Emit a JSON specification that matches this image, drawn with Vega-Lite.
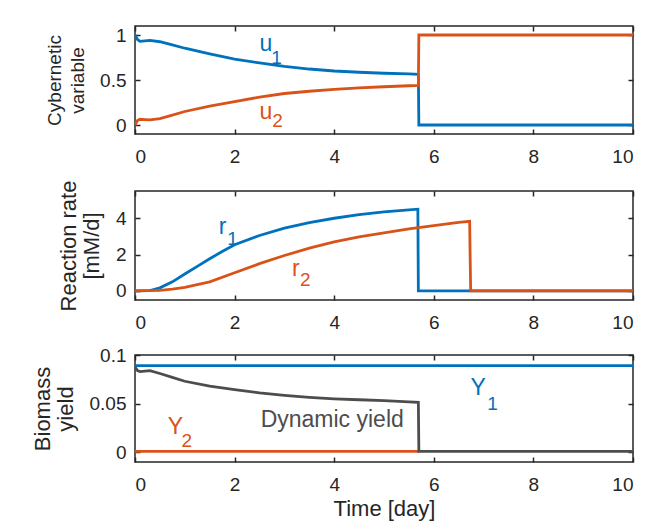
{
  "$schema": "https://vega.github.io/schema/vega-lite/v6.json",
  "background": "white",
  "padding": {"left": 30, "top": 24, "right": 10, "bottom": 2},
  "datasets": {
    "curves": [
      {"panel": 1, "series": "u1", "t": 0, "v": 1.0},
      {"panel": 1, "series": "u1", "t": 0.05, "v": 0.95},
      {"panel": 1, "series": "u1", "t": 0.1, "v": 0.93},
      {"panel": 1, "series": "u1", "t": 0.2, "v": 0.935},
      {"panel": 1, "series": "u1", "t": 0.3, "v": 0.94},
      {"panel": 1, "series": "u1", "t": 0.5, "v": 0.925},
      {"panel": 1, "series": "u1", "t": 0.75, "v": 0.89},
      {"panel": 1, "series": "u1", "t": 1, "v": 0.853},
      {"panel": 1, "series": "u1", "t": 1.5, "v": 0.79},
      {"panel": 1, "series": "u1", "t": 2, "v": 0.733},
      {"panel": 1, "series": "u1", "t": 2.5, "v": 0.69},
      {"panel": 1, "series": "u1", "t": 3, "v": 0.652},
      {"panel": 1, "series": "u1", "t": 3.5, "v": 0.622},
      {"panel": 1, "series": "u1", "t": 4, "v": 0.6},
      {"panel": 1, "series": "u1", "t": 4.5, "v": 0.586},
      {"panel": 1, "series": "u1", "t": 5, "v": 0.575},
      {"panel": 1, "series": "u1", "t": 5.5, "v": 0.567},
      {"panel": 1, "series": "u1", "t": 5.69, "v": 0.564},
      {"panel": 1, "series": "u1", "t": 5.7, "v": 0},
      {"panel": 1, "series": "u1", "t": 10, "v": 0},
      {"panel": 1, "series": "u2", "t": 0, "v": 0.0},
      {"panel": 1, "series": "u2", "t": 0.05, "v": 0.05},
      {"panel": 1, "series": "u2", "t": 0.1, "v": 0.064},
      {"panel": 1, "series": "u2", "t": 0.2, "v": 0.06},
      {"panel": 1, "series": "u2", "t": 0.3, "v": 0.056},
      {"panel": 1, "series": "u2", "t": 0.5, "v": 0.07},
      {"panel": 1, "series": "u2", "t": 0.75, "v": 0.11},
      {"panel": 1, "series": "u2", "t": 1, "v": 0.15},
      {"panel": 1, "series": "u2", "t": 1.5, "v": 0.21},
      {"panel": 1, "series": "u2", "t": 2, "v": 0.26},
      {"panel": 1, "series": "u2", "t": 2.5, "v": 0.31},
      {"panel": 1, "series": "u2", "t": 3, "v": 0.35},
      {"panel": 1, "series": "u2", "t": 3.5, "v": 0.375},
      {"panel": 1, "series": "u2", "t": 4, "v": 0.395},
      {"panel": 1, "series": "u2", "t": 4.5, "v": 0.412},
      {"panel": 1, "series": "u2", "t": 5, "v": 0.425},
      {"panel": 1, "series": "u2", "t": 5.5, "v": 0.436},
      {"panel": 1, "series": "u2", "t": 5.69, "v": 0.44},
      {"panel": 1, "series": "u2", "t": 5.7, "v": 1},
      {"panel": 1, "series": "u2", "t": 10, "v": 1},
      {"panel": 2, "series": "r1", "t": 0, "v": 0},
      {"panel": 2, "series": "r1", "t": 0.3, "v": 0.02},
      {"panel": 2, "series": "r1", "t": 0.5, "v": 0.17},
      {"panel": 2, "series": "r1", "t": 0.75, "v": 0.5},
      {"panel": 2, "series": "r1", "t": 1, "v": 0.93},
      {"panel": 2, "series": "r1", "t": 1.25, "v": 1.35},
      {"panel": 2, "series": "r1", "t": 1.5, "v": 1.77},
      {"panel": 2, "series": "r1", "t": 1.75, "v": 2.17},
      {"panel": 2, "series": "r1", "t": 2, "v": 2.54},
      {"panel": 2, "series": "r1", "t": 2.5, "v": 3.05},
      {"panel": 2, "series": "r1", "t": 3, "v": 3.46},
      {"panel": 2, "series": "r1", "t": 3.5, "v": 3.76},
      {"panel": 2, "series": "r1", "t": 4, "v": 4.0},
      {"panel": 2, "series": "r1", "t": 4.5, "v": 4.2},
      {"panel": 2, "series": "r1", "t": 5, "v": 4.35},
      {"panel": 2, "series": "r1", "t": 5.5, "v": 4.46},
      {"panel": 2, "series": "r1", "t": 5.68, "v": 4.5},
      {"panel": 2, "series": "r1", "t": 5.69, "v": 0},
      {"panel": 2, "series": "r1", "t": 10, "v": 0},
      {"panel": 2, "series": "r2", "t": 0, "v": 0},
      {"panel": 2, "series": "r2", "t": 0.5, "v": 0.03},
      {"panel": 2, "series": "r2", "t": 0.75, "v": 0.1},
      {"panel": 2, "series": "r2", "t": 1, "v": 0.2},
      {"panel": 2, "series": "r2", "t": 1.5, "v": 0.5},
      {"panel": 2, "series": "r2", "t": 2, "v": 1.0},
      {"panel": 2, "series": "r2", "t": 2.5, "v": 1.5},
      {"panel": 2, "series": "r2", "t": 3, "v": 1.95},
      {"panel": 2, "series": "r2", "t": 3.5, "v": 2.35},
      {"panel": 2, "series": "r2", "t": 4, "v": 2.7},
      {"panel": 2, "series": "r2", "t": 4.5, "v": 2.98},
      {"panel": 2, "series": "r2", "t": 5, "v": 3.2},
      {"panel": 2, "series": "r2", "t": 5.5, "v": 3.42},
      {"panel": 2, "series": "r2", "t": 6, "v": 3.6},
      {"panel": 2, "series": "r2", "t": 6.5, "v": 3.77},
      {"panel": 2, "series": "r2", "t": 6.72, "v": 3.83},
      {"panel": 2, "series": "r2", "t": 6.74, "v": 0},
      {"panel": 2, "series": "r2", "t": 10, "v": 0},
      {"panel": 3, "series": "Y1", "t": 0, "v": 0.089},
      {"panel": 3, "series": "Y1", "t": 10, "v": 0.089},
      {"panel": 3, "series": "Y2", "t": 0, "v": 0.001},
      {"panel": 3, "series": "Y2", "t": 5.7, "v": 0.001},
      {"panel": 3, "series": "Dyn", "t": 0, "v": 0.0876},
      {"panel": 3, "series": "Dyn", "t": 0.05, "v": 0.084},
      {"panel": 3, "series": "Dyn", "t": 0.1, "v": 0.083},
      {"panel": 3, "series": "Dyn", "t": 0.2, "v": 0.0835},
      {"panel": 3, "series": "Dyn", "t": 0.3, "v": 0.084},
      {"panel": 3, "series": "Dyn", "t": 0.5, "v": 0.081},
      {"panel": 3, "series": "Dyn", "t": 0.75, "v": 0.077},
      {"panel": 3, "series": "Dyn", "t": 1, "v": 0.073},
      {"panel": 3, "series": "Dyn", "t": 1.5, "v": 0.068},
      {"panel": 3, "series": "Dyn", "t": 2, "v": 0.0645},
      {"panel": 3, "series": "Dyn", "t": 2.5, "v": 0.061},
      {"panel": 3, "series": "Dyn", "t": 3, "v": 0.0585},
      {"panel": 3, "series": "Dyn", "t": 3.5, "v": 0.0565},
      {"panel": 3, "series": "Dyn", "t": 4, "v": 0.055},
      {"panel": 3, "series": "Dyn", "t": 4.5, "v": 0.054},
      {"panel": 3, "series": "Dyn", "t": 5, "v": 0.053},
      {"panel": 3, "series": "Dyn", "t": 5.5, "v": 0.0518},
      {"panel": 3, "series": "Dyn", "t": 5.69, "v": 0.0514},
      {"panel": 3, "series": "Dyn", "t": 5.7, "v": 0.001},
      {"panel": 3, "series": "Dyn", "t": 10, "v": 0.001}
    ],
    "labels": [
      {"panel": 1, "series": "u1", "role": "main", "t": 2.63, "v": 0.905, "text": "u"},
      {"panel": 1, "series": "u1", "role": "sub", "t": 2.84, "v": 0.745, "text": "1"},
      {"panel": 1, "series": "u2", "role": "main", "t": 2.63, "v": 0.15, "text": "u"},
      {"panel": 1, "series": "u2", "role": "sub", "t": 2.86, "v": 0.04, "text": "2"},
      {"panel": 2, "series": "r1", "role": "main", "t": 1.76, "v": 3.54, "text": "r"},
      {"panel": 2, "series": "r1", "role": "sub", "t": 1.96, "v": 2.85, "text": "1"},
      {"panel": 2, "series": "r2", "role": "main", "t": 3.23, "v": 1.18, "text": "r"},
      {"panel": 2, "series": "r2", "role": "sub", "t": 3.42, "v": 0.6, "text": "2"},
      {"panel": 3, "series": "Y1", "role": "main", "t": 6.89, "v": 0.066, "text": "Y"},
      {"panel": 3, "series": "Y1", "role": "sub", "t": 7.18, "v": 0.05, "text": "1"},
      {"panel": 3, "series": "Y2", "role": "main", "t": 0.81, "v": 0.0255, "text": "Y"},
      {"panel": 3, "series": "Y2", "role": "sub", "t": 1.04, "v": 0.012, "text": "2"},
      {"panel": 3, "series": "Dyn", "role": "main", "t": 3.96, "v": 0.033, "text": "Dynamic yield"}
    ]
  },
  "config": {
    "font": "Liberation Sans",
    "view": {"stroke": "#262626", "strokeWidth": 1.5},
    "axis": {
      "grid": false,
      "domain": false,
      "labelFont": "Liberation Sans",
      "labelFontSize": 19,
      "labelColor": "#262626",
      "tickColor": "#262626",
      "tickWidth": 1.5,
      "tickSize": -5,
      "titleFont": "Liberation Sans",
      "titleFontWeight": "normal",
      "titleColor": "#262626",
      "titleLineHeight": 23
    },
    "axisX": {"labelPadding": 18},
    "axisY": {"labelPadding": 14},
    "concat": {"spacing": 12}
  },
  "vconcat": [
    {
      "width": 498, "height": 108,
      "resolve": {"axis": {"x": "independent", "y": "independent"}},
      "layer": [
        {
          "data": {"name": "curves"},
          "transform": [{"filter": "datum.panel == 1"}],
          "mark": {"type": "line", "strokeWidth": 2.8, "clip": true},
          "encoding": {
            "x": {"field": "t", "type": "quantitative", "scale": {"domain": [0, 10]}, "axis": {"orient": "bottom", "values": [0, 2, 4, 6, 8, 10], "title": null}},
            "y": {"field": "v", "type": "quantitative", "scale": {"domain": [-0.1, 1.1]}, "axis": {"orient": "left", "values": [0, 0.5, 1], "format": "~g", "title": ["Cybernetic", "variable"], "titleFontSize": 19, "titlePadding": 12}},
            "color": {"field": "series", "type": "nominal", "legend": null, "scale": {"domain": ["u1", "u2", "r1", "r2", "Y1", "Y2", "Dyn"], "range": ["#0072BD", "#D95319", "#0072BD", "#D95319", "#0072BD", "#D95319", "#4D4D4D"]}}
          }
        },
        {
          "data": {"name": "labels"},
          "transform": [{"filter": "datum.panel == 1 && datum.role == 'main'"}],
          "mark": {"type": "text", "fontSize": 23, "font": "Liberation Sans"},
          "encoding": {
            "x": {"field": "t", "type": "quantitative", "axis": {"orient": "top", "values": [0, 2, 4, 6, 8, 10], "labels": false, "title": null}},
            "y": {"field": "v", "type": "quantitative", "axis": {"orient": "right", "values": [0, 0.5, 1], "labels": false, "title": null}},
            "text": {"field": "text"},
            "color": {"field": "series", "type": "nominal", "legend": null}
          }
        },
        {
          "data": {"name": "labels"},
          "transform": [{"filter": "datum.panel == 1 && datum.role == 'sub'"}],
          "mark": {"type": "text", "fontSize": 19, "font": "Liberation Sans"},
          "encoding": {
            "x": {"field": "t", "type": "quantitative", "axis": null},
            "y": {"field": "v", "type": "quantitative", "axis": null},
            "text": {"field": "text"},
            "color": {"field": "series", "type": "nominal", "legend": null}
          }
        }
      ]
    },
    {
      "width": 498, "height": 109,
      "resolve": {"axis": {"x": "independent", "y": "independent"}},
      "layer": [
        {
          "data": {"name": "curves"},
          "transform": [{"filter": "datum.panel == 2"}],
          "mark": {"type": "line", "strokeWidth": 2.8, "clip": true},
          "encoding": {
            "x": {"field": "t", "type": "quantitative", "scale": {"domain": [0, 10]}, "axis": {"orient": "bottom", "values": [0, 2, 4, 6, 8, 10], "title": null}},
            "y": {"field": "v", "type": "quantitative", "scale": {"domain": [-0.5, 5.1]}, "axis": {"orient": "left", "values": [0, 2, 4], "title": ["Reaction rate", "[mM/d]"], "titleFontSize": 22, "titlePadding": 12}},
            "color": {"field": "series", "type": "nominal", "legend": null}
          }
        },
        {
          "data": {"name": "labels"},
          "transform": [{"filter": "datum.panel == 2 && datum.role == 'main'"}],
          "mark": {"type": "text", "fontSize": 23, "font": "Liberation Sans"},
          "encoding": {
            "x": {"field": "t", "type": "quantitative", "axis": {"orient": "top", "values": [0, 2, 4, 6, 8, 10], "labels": false, "title": null}},
            "y": {"field": "v", "type": "quantitative", "axis": {"orient": "right", "values": [0, 2, 4], "labels": false, "title": null}},
            "text": {"field": "text"},
            "color": {"field": "series", "type": "nominal", "legend": null}
          }
        },
        {
          "data": {"name": "labels"},
          "transform": [{"filter": "datum.panel == 2 && datum.role == 'sub'"}],
          "mark": {"type": "text", "fontSize": 19, "font": "Liberation Sans"},
          "encoding": {
            "x": {"field": "t", "type": "quantitative", "axis": null},
            "y": {"field": "v", "type": "quantitative", "axis": null},
            "text": {"field": "text"},
            "color": {"field": "series", "type": "nominal", "legend": null}
          }
        }
      ]
    },
    {
      "width": 498, "height": 107,
      "resolve": {"axis": {"x": "independent", "y": "independent"}},
      "layer": [
        {
          "data": {"name": "curves"},
          "transform": [{"filter": "datum.panel == 3"}],
          "mark": {"type": "line", "strokeWidth": 2.8, "clip": true},
          "encoding": {
            "x": {"field": "t", "type": "quantitative", "scale": {"domain": [0, 10]}, "axis": {"orient": "bottom", "values": [0, 2, 4, 6, 8, 10], "title": "Time [day]", "titleFontSize": 22, "titlePadding": 4}},
            "y": {"field": "v", "type": "quantitative", "scale": {"domain": [-0.009, 0.1]}, "axis": {"orient": "left", "values": [0, 0.05, 0.1], "format": "~g", "title": ["Biomass", "yield"], "titleFontSize": 22, "titlePadding": 12}},
            "color": {"field": "series", "type": "nominal", "legend": null}
          }
        },
        {
          "data": {"name": "labels"},
          "transform": [{"filter": "datum.panel == 3 && datum.role == 'main'"}],
          "mark": {"type": "text", "fontSize": 23, "font": "Liberation Sans"},
          "encoding": {
            "x": {"field": "t", "type": "quantitative", "axis": {"orient": "top", "values": [0, 2, 4, 6, 8, 10], "labels": false, "title": null}},
            "y": {"field": "v", "type": "quantitative", "axis": {"orient": "right", "values": [0, 0.05, 0.1], "labels": false, "title": null}},
            "text": {"field": "text"},
            "color": {"field": "series", "type": "nominal", "legend": null}
          }
        },
        {
          "data": {"name": "labels"},
          "transform": [{"filter": "datum.panel == 3 && datum.role == 'sub'"}],
          "mark": {"type": "text", "fontSize": 19, "font": "Liberation Sans"},
          "encoding": {
            "x": {"field": "t", "type": "quantitative", "axis": null},
            "y": {"field": "v", "type": "quantitative", "axis": null},
            "text": {"field": "text"},
            "color": {"field": "series", "type": "nominal", "legend": null}
          }
        }
      ]
    }
  ]
}
